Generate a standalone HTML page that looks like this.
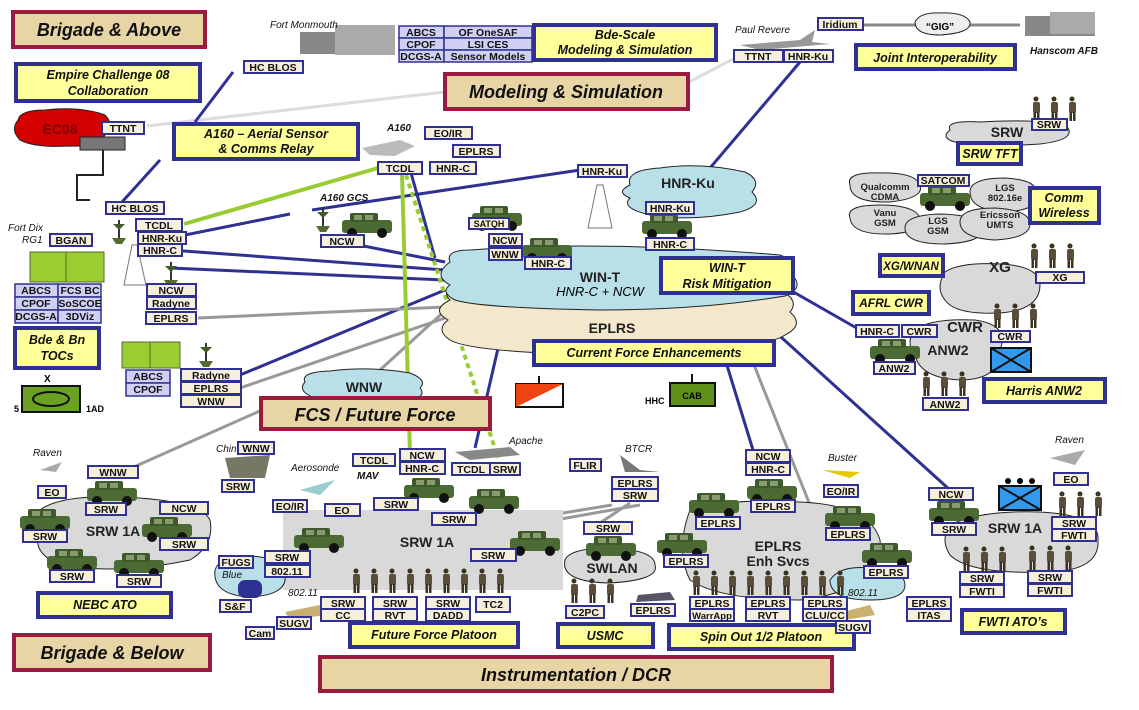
<!DOCTYPE html>
<html><head><meta charset="utf-8"><style>
html,body{margin:0;padding:0;background:#fff;width:1139px;height:710px;overflow:hidden}
svg{display:block}
text{font-family:"Liberation Sans",Arial,sans-serif}
.b{fill:#f6efdc;stroke:#2e3192;stroke-width:2}
.g{fill:#d0d0f4;stroke:#2e3192;stroke-width:1.5}
.t{font-size:10.5px;font-weight:bold;text-anchor:middle;fill:#111}
.y{fill:#ffff99;stroke:#2e3192;stroke-width:4}
.yt{font-size:12.5px;font-weight:bold;font-style:italic;text-anchor:middle;fill:#111}
.m{fill:#e8d5a6;stroke:#9b1b3e;stroke-width:4}
.mt{font-size:18px;font-weight:bold;font-style:italic;text-anchor:middle;fill:#111}
.it{font-size:10px;font-style:italic;fill:#111}
.bl{stroke:#2e3192;stroke-width:3;fill:none}
.gr{stroke:#999;stroke-width:3;fill:none}
.lg{stroke:#ddd;stroke-width:3;fill:none}
.gn{stroke:#99cc33;stroke-width:4;fill:none}
.cl{stroke:#222;stroke-width:1}
.ct{font-size:14px;font-weight:bold;text-anchor:middle;fill:#222}
.st{font-size:9.5px;font-weight:bold;text-anchor:middle;fill:#222}
</style></head><body>
<svg width="1139" height="710" viewBox="0 0 1139 710" xmlns="http://www.w3.org/2000/svg">
<defs>
<g id="hv"><rect x="2" y="8" width="50" height="13" rx="3" fill="#4c6b34"/><rect x="10" y="1" width="28" height="9" rx="2" fill="#3d5a2a"/><rect x="14" y="3" width="8" height="5" fill="#8a9a70"/><rect x="25" y="3" width="8" height="5" fill="#8a9a70"/><circle cx="12" cy="21" r="5" fill="#111"/><circle cx="42" cy="21" r="5" fill="#111"/></g>
<g id="sd"><circle cx="4" cy="3" r="2.5" fill="#3a3322"/><rect x="1" y="6" width="7" height="11" rx="2" fill="#5a4e38"/><rect x="1.5" y="16" width="2.5" height="9" fill="#3a3322"/><rect x="5" y="16" width="2.5" height="9" fill="#3a3322"/></g>
<g id="s3"><use href="#sd"/><use href="#sd" x="18"/><use href="#sd" x="36"/></g>
<g id="ant"><rect x="0" y="0" width="2" height="18" fill="#333"/><path d="M-6 18 L8 18 L4 24 L-2 24 Z" fill="#556b2f"/><path d="M-5 4 L1 10 L7 4" fill="#3e5b2a"/></g>
</defs>

<line class="lg" x1="147" y1="126" x2="445" y2="92"/>
<line class="lg" x1="689" y1="82" x2="735" y2="58"/>
<line x1="863" y1="25" x2="1020" y2="25" stroke="#888" stroke-width="3"/>
<line class="bl" x1="233" y1="72" x2="195" y2="122"/>
<line class="bl" x1="160" y1="160" x2="122" y2="202"/>
<line class="bl" x1="800" y1="62" x2="710" y2="168"/>
<line class="bl" x1="170" y1="238" x2="290" y2="214"/>
<line class="bl" x1="312" y1="210" x2="580" y2="170"/>
<line class="bl" x1="170" y1="250" x2="445" y2="270"/>
<line class="bl" x1="170" y1="268" x2="445" y2="280"/>
<line class="bl" x1="333" y1="240" x2="445" y2="262"/>
<line class="bl" x1="411" y1="173" x2="435" y2="258"/>
<line class="bl" x1="240" y1="375" x2="445" y2="290"/>
<line class="gr" x1="198" y1="318" x2="445" y2="307"/>
<line class="gr" x1="240" y1="388" x2="445" y2="318"/>
<line class="gr" x1="380" y1="370" x2="505" y2="256"/>
<line class="gr" x1="127" y1="470" x2="262" y2="410"/>
<line class="bl" x1="508" y1="305" x2="475" y2="448"/>
<line class="gn" x1="184" y1="224" x2="378" y2="168"/>
<line class="gn" x1="402" y1="173" x2="410" y2="455"/>
<line x1="406" y1="175" x2="498" y2="458" stroke="#99cc33" stroke-width="4" stroke-dasharray="5,4"/>
<line class="bl" x1="710" y1="310" x2="753" y2="450"/>
<line class="gr" x1="740" y1="330" x2="810" y2="505"/>
<line class="bl" x1="740" y1="300" x2="950" y2="490"/>
<line class="bl" x1="790" y1="290" x2="860" y2="330"/>
<line class="gr" x1="520" y1="520" x2="612" y2="505"/>
<line class="gr" x1="600" y1="523" x2="630" y2="503"/>
<line class="gr" x1="555" y1="520" x2="640" y2="505"/>

<path class="cl" fill="#f3e7cc" d="M450 300 Q440 290 460 285 Q600 278 780 290 Q800 300 790 312 Q805 325 785 335 Q760 352 600 355 Q470 352 450 340 Q435 330 448 320 Q430 310 450 300Z"/>
<path class="cl" fill="#b9dfe8" d="M450 262 Q445 250 470 250 Q600 240 780 255 Q800 262 792 275 Q805 288 785 296 Q700 310 600 310 Q480 308 455 300 Q440 292 450 285 Q432 275 450 262Z"/>
<path class="cl" fill="#b9dfe8" d="M630 185 Q625 170 660 168 Q700 162 745 172 Q762 180 752 192 Q765 205 740 212 Q690 222 650 215 Q620 208 630 198 Q615 192 630 185Z"/>
<path class="cl" fill="#b9dfe8" d="M305 382 Q300 372 330 371 Q370 366 410 373 Q428 380 420 388 Q428 398 405 400 Q360 404 318 399 Q296 392 305 382Z"/>
<path class="cl" fill="#d40000" d="M18 120 Q20 110 45 110 Q80 106 105 115 Q115 125 105 135 Q100 147 70 146 Q35 148 20 140 Q10 130 18 120Z"/>
<path class="cl" fill="#eee" d="M915 22 Q920 12 940 13 Q965 12 970 22 Q972 33 940 35 Q915 35 915 22Z"/>
<path class="cl" fill="#d9d9d9" d="M950 130 Q945 120 980 122 Q1050 118 1068 128 Q1075 140 1040 144 Q980 148 955 142 Q940 138 950 130Z"/>
<path class="cl" fill="#d9d9d9" d="M850 185 Q845 172 880 173 Q915 172 920 185 Q925 198 890 202 Q850 203 850 185Z"/>
<path class="cl" fill="#d9d9d9" d="M850 218 Q845 205 880 205 Q915 205 920 218 Q925 232 890 234 Q852 235 850 218Z"/>
<path class="cl" fill="#d9d9d9" d="M905 228 Q905 215 940 214 Q980 215 982 228 Q985 242 945 244 Q905 244 905 228Z"/>
<path class="cl" fill="#d9d9d9" d="M970 192 Q970 178 1005 178 Q1040 180 1036 195 Q1040 210 1005 212 Q970 210 970 192Z"/>
<path class="cl" fill="#d9d9d9" d="M960 222 Q960 208 995 208 Q1030 210 1030 224 Q1030 238 995 240 Q960 238 960 222Z"/>
<path class="cl" fill="#d9d9d9" d="M945 272 Q960 262 1000 264 Q1040 266 1040 285 Q1040 310 1000 313 Q955 315 945 300 Q935 288 945 272Z"/>
<path class="cl" fill="#d9d9d9" d="M915 330 Q930 318 975 320 Q1010 325 1000 350 Q1000 380 960 380 Q920 378 915 355 Q905 342 915 330Z"/>
<path class="cl" fill="#d9d9d9" d="M40 510 Q60 495 120 497 Q200 500 210 520 Q215 545 190 560 Q120 575 60 565 Q30 552 40 530 Q28 520 40 510Z"/>
<rect x="283" y="510" width="280" height="80" fill="#d9d9d9"/>
<path class="cl" fill="#d9d9d9" d="M565 560 Q570 548 610 548 Q655 550 655 565 Q660 580 610 583 Q560 582 565 560Z"/>
<path class="cl" fill="#d9d9d9" d="M690 510 Q730 498 800 502 Q870 505 880 540 Q885 590 800 600 Q720 600 690 580 Q675 550 690 510Z"/>
<path class="cl" fill="#d9d9d9" d="M950 525 Q980 510 1040 512 Q1100 515 1098 540 Q1100 570 1050 572 Q970 575 950 555 Q940 540 950 525Z"/>
<path class="cl" fill="#b9dfe8" d="M215 570 Q220 555 250 556 Q285 558 285 575 Q288 595 250 597 Q212 595 215 570Z"/>
<path class="cl" fill="#b9dfe8" d="M830 580 Q840 565 870 568 Q905 570 905 585 Q905 600 870 600 Q830 600 830 580Z"/>

<text x="60" y="134" class="ct" style="fill:#7a0000">EC08</text>
<rect x="80" y="137" width="45" height="13" fill="#777" stroke="#222"/>
<path d="M103 150 V175 H77 V200 H90" fill="none" stroke="#222" stroke-width="2"/>
<text x="600" y="282" class="ct">WIN-T</text>
<text x="600" y="296" style="font-size:13px;font-style:italic;text-anchor:middle">HNR-C + NCW</text>
<text x="612" y="333" class="ct">EPLRS</text>
<text x="688" y="188" class="ct">HNR-Ku</text>
<text x="364" y="392" class="ct">WNW</text>
<text x="940" y="30" style="font-size:10px;font-weight:bold;text-anchor:middle">“GIG”</text>
<text x="1007" y="137" class="ct">SRW</text>
<text x="885" y="190" class="st">Qualcomm</text><text x="885" y="200" class="st">CDMA</text>
<text x="885" y="216" class="st">Vanu</text><text x="885" y="226" class="st">GSM</text>
<text x="938" y="224" class="st">LGS</text><text x="938" y="234" class="st">GSM</text>
<text x="1005" y="191" class="st">LGS</text><text x="1005" y="201" class="st">802.16e</text>
<text x="1000" y="218" class="st">Ericsson</text><text x="1000" y="228" class="st">UMTS</text>
<text x="1000" y="272" class="ct" style="font-size:15px">XG</text>
<text x="965" y="332" class="ct" style="font-size:15px">CWR</text>
<text x="948" y="355" class="ct">ANW2</text>
<text x="113" y="536" class="ct">SRW 1A</text>
<text x="427" y="547" class="ct">SRW 1A</text>
<text x="612" y="573" class="ct">SWLAN</text>
<text x="778" y="551" class="ct">EPLRS</text><text x="778" y="566" class="ct">Enh Svcs</text>
<text x="1015" y="533" class="ct">SRW 1A</text>
<text x="222" y="578" class="it">Blue</text>
<rect x="238" y="580" width="24" height="18" rx="7" fill="#2e3192"/>
<text x="288" y="596" class="it">802.11</text>
<text x="848" y="596" class="it">802.11</text>

<rect class="m" x="13" y="12" width="192" height="35"/><text class="mt" x="109" y="36">Brigade &amp; Above</text>
<rect class="m" x="445" y="74" width="243" height="35"/><text class="mt" x="566" y="98">Modeling &amp; Simulation</text>
<rect class="m" x="261" y="398" width="229" height="31"/><text class="mt" x="375" y="421">FCS / Future Force</text>
<rect class="m" x="14" y="635" width="196" height="35"/><text class="mt" x="112" y="659">Brigade &amp; Below</text>
<rect class="m" x="320" y="657" width="512" height="34"/><text class="mt" x="576" y="681">Instrumentation / DCR</text>

<rect class="y" x="16" y="64" width="184" height="37"/><text class="yt" x="108" y="79">Empire Challenge 08</text><text class="yt" x="108" y="95">Collaboration</text>
<rect class="y" x="534" y="25" width="182" height="35"/><text class="yt" x="625" y="39">Bde-Scale</text><text class="yt" x="625" y="54">Modeling &amp; Simulation</text>
<rect class="y" x="174" y="124" width="184" height="35"/><text class="yt" x="266" y="138">A160 – Aerial Sensor</text><text class="yt" x="266" y="153">&amp; Comms Relay</text>
<rect class="y" x="856" y="45" width="159" height="24"/><text class="yt" x="935" y="62">Joint Interoperability</text>
<rect class="y" x="958" y="143" width="63" height="21"/><text class="yt" x="990" y="158">SRW TFT</text>
<rect class="y" x="1030" y="188" width="69" height="35"/><text class="yt" x="1064" y="202">Comm</text><text class="yt" x="1064" y="217">Wireless</text>
<rect class="y" x="880" y="255" width="63" height="21"/><text class="yt" x="911" y="270" style="font-size:11.5px">XG/WNAN</text>
<rect class="y" x="853" y="292" width="76" height="22"/><text class="yt" x="891" y="307" style="font-size:12px">AFRL CWR</text>
<rect class="y" x="661" y="258" width="132" height="35"/><text class="yt" x="727" y="272">WIN-T</text><text class="yt" x="727" y="288">Risk Mitigation</text>
<rect class="y" x="534" y="341" width="240" height="24"/><text class="yt" x="654" y="357">Current Force Enhancements</text>
<rect class="y" x="15" y="328" width="84" height="40"/><text class="yt" x="57" y="344">Bde &amp; Bn</text><text class="yt" x="57" y="360">TOCs</text>
<rect class="y" x="984" y="379" width="121" height="23"/><text class="yt" x="1044" y="395">Harris ANW2</text>
<rect class="y" x="38" y="593" width="133" height="24"/><text class="yt" x="105" y="609">NEBC ATO</text>
<rect class="y" x="350" y="623" width="168" height="24"/><text class="yt" x="434" y="639">Future Force Platoon</text>
<rect class="y" x="558" y="624" width="95" height="23"/><text class="yt" x="605" y="640">USMC</text>
<rect class="y" x="669" y="625" width="185" height="24"/><text class="yt" x="761" y="641">Spin Out 1/2 Platoon</text>
<rect class="y" x="962" y="610" width="103" height="23"/><text class="yt" x="1013" y="626">FWTI ATO’s</text>

<g fill="#888"><rect x="300" y="32" width="70" height="22"/><rect x="335" y="25" width="60" height="30" fill="#aaa"/></g>
<g fill="#888"><rect x="1025" y="16" width="70" height="20"/><rect x="1050" y="12" width="45" height="22" fill="#aaa"/></g>
<path d="M740 45 L800 40 L815 30 L812 42 L830 44 L760 50Z" fill="#999"/>
<path d="M362 148 L400 140 L415 146 L395 156 L370 155Z" fill="#bbb"/>
<path d="M597 185 L603 185 L612 228 L588 228Z" fill="none" stroke="#777"/>
<path d="M132 245 L137 245 L146 285 L124 285Z" fill="none" stroke="#777"/>
<g fill="#9acd32" stroke="#556b2f"><rect x="30" y="252" width="38" height="30"/><rect x="66" y="252" width="38" height="30"/><rect x="122" y="342" width="30" height="26"/><rect x="150" y="342" width="30" height="26"/></g>
<use href="#ant" x="118" y="220"/><use href="#ant" x="170" y="262"/><use href="#ant" x="322" y="208"/><use href="#ant" x="205" y="343"/>
<text x="44" y="382" style="font-size:10px;font-weight:bold">X</text>
<rect x="22" y="386" width="58" height="26" fill="#6aa121" stroke="#111" stroke-width="2"/>
<ellipse cx="51" cy="399" rx="18" ry="7" fill="none" stroke="#111" stroke-width="2"/>
<text x="14" y="412" style="font-size:9px;font-weight:bold">5</text><text x="86" y="412" style="font-size:9px;font-weight:bold">1AD</text>
<line x1="539" y1="376" x2="539" y2="384" stroke="#111" stroke-width="2"/>
<rect x="516" y="384" width="47" height="23" fill="#fff" stroke="#111" stroke-width="2"/>
<path d="M516 384 H563 L516 407Z" fill="#ee4411"/>
<line x1="692" y1="374" x2="692" y2="383" stroke="#111" stroke-width="2"/>
<rect x="670" y="383" width="45" height="23" fill="#5e8f17" stroke="#111" stroke-width="2"/>
<text x="692" y="399" style="font-size:9px;font-weight:bold;text-anchor:middle">CAB</text>
<text x="645" y="404" style="font-size:9px;font-weight:bold">HHC</text>
<rect x="991" y="348" width="40" height="24" fill="#3399ee" stroke="#111" stroke-width="2"/><path d="M991 348 L1031 372 M1031 348 L991 372" stroke="#111" stroke-width="2"/>
<rect x="999" y="486" width="42" height="24" fill="#3399ee" stroke="#111" stroke-width="2"/><path d="M999 486 L1041 510 M1041 486 L999 510" stroke="#111" stroke-width="2"/>
<circle cx="1008" cy="481" r="3"/><circle cx="1020" cy="481" r="3"/><circle cx="1032" cy="481" r="3"/>
<path d="M455 452 L510 447 L520 455 L470 460Z" fill="#888"/>
<path d="M620 455 L640 470 L660 472 L625 472Z" fill="#777"/>
<path d="M822 470 L860 472 L850 478Z" fill="#e8c800"/>
<path d="M300 490 L335 480 L320 495Z" fill="#9cc"/>
<path d="M225 458 L270 455 L265 478 L230 478Z" fill="#776"/>
<path d="M638 595 L670 592 L675 600 L636 602Z" fill="#556"/>
<path d="M285 612 L320 605 L325 615 L290 620Z" fill="#c8b070"/>
<path d="M842 612 L870 605 L875 615 L845 620Z" fill="#c8b070"/>
<path d="M40 470 L62 462 L56 472Z" fill="#aaa"/><path d="M1050 458 L1085 450 L1075 465Z" fill="#aaa"/>

<use href="#hv" x="470" y="205"/><use href="#hv" x="520" y="237"/><use href="#hv" x="340" y="212"/>
<use href="#hv" x="640" y="213"/><use href="#hv" x="918" y="185"/><use href="#hv" x="868" y="338"/>
<use href="#hv" x="85" y="480"/><use href="#hv" x="18" y="508"/><use href="#hv" x="140" y="516"/><use href="#hv" x="45" y="548"/><use href="#hv" x="112" y="552"/>
<use href="#hv" x="402" y="477"/><use href="#hv" x="467" y="488"/><use href="#hv" x="292" y="527"/><use href="#hv" x="508" y="530"/>
<use href="#hv" x="584" y="535"/><use href="#hv" x="687" y="492"/><use href="#hv" x="745" y="478"/><use href="#hv" x="655" y="532"/><use href="#hv" x="823" y="505"/><use href="#hv" x="860" y="542"/><use href="#hv" x="927" y="500"/>

<use href="#s3" x="1032" y="96"/><use href="#s3" x="1030" y="243"/><use href="#s3" x="993" y="303"/><use href="#s3" x="922" y="371"/>
<use href="#s3" x="352" y="568"/><use href="#s3" x="406" y="568"/><use href="#s3" x="460" y="568"/>
<use href="#s3" x="570" y="578"/><use href="#s3" x="692" y="570"/><use href="#s3" x="746" y="570"/><use href="#s3" x="800" y="570"/>
<use href="#s3" x="1058" y="491"/><use href="#s3" x="962" y="546"/><use href="#s3" x="1028" y="545"/>

<g>
<rect class="g" x="399" y="26" width="45" height="12"/><text class="t" x="421" y="36">ABCS</text>
<rect class="g" x="444" y="26" width="88" height="12"/><text class="t" x="488" y="36">OF OneSAF</text>
<rect class="g" x="399" y="38" width="45" height="12"/><text class="t" x="421" y="48">CPOF</text>
<rect class="g" x="444" y="38" width="88" height="12"/><text class="t" x="488" y="48">LSI CES</text>
<rect class="g" x="399" y="50" width="45" height="12"/><text class="t" x="421" y="60">DCGS-A</text>
<rect class="g" x="444" y="50" width="88" height="12"/><text class="t" x="488" y="60">Sensor Models</text>
<rect class="g" x="15" y="284" width="43" height="13"/><text class="t" x="36" y="294">ABCS</text>
<rect class="g" x="58" y="284" width="43" height="13"/><text class="t" x="80" y="294">FCS BC</text>
<rect class="g" x="15" y="297" width="43" height="13"/><text class="t" x="36" y="307">CPOF</text>
<rect class="g" x="58" y="297" width="43" height="13"/><text class="t" x="80" y="307">SoSCOE</text>
<rect class="g" x="15" y="310" width="43" height="13"/><text class="t" x="36" y="320">DCGS-A</text>
<rect class="g" x="58" y="310" width="43" height="13"/><text class="t" x="80" y="320">3DViz</text>
<rect class="g" x="126" y="370" width="44" height="13"/><text class="t" x="148" y="380">ABCS</text>
<rect class="g" x="126" y="383" width="44" height="13"/><text class="t" x="148" y="393">CPOF</text>
</g>
<text class="it" x="270" y="28">Fort Monmouth</text>
<text class="it" x="735" y="33">Paul Revere</text>
<text class="it" x="1030" y="54" style="font-weight:bold">Hanscom AFB</text>
<text class="it" x="387" y="131" style="font-weight:bold">A160</text>
<text class="it" x="320" y="201" style="font-weight:bold">A160 GCS</text>
<text class="it" x="8" y="231">Fort Dix</text><text class="it" x="22" y="243">RG1</text>
<text class="it" x="33" y="456">Raven</text><text class="it" x="1055" y="443">Raven</text>
<text class="it" x="216" y="452">Chinook</text><text class="it" x="291" y="471">Aerosonde</text>
<text class="it" x="357" y="479" style="font-weight:bold">MAV</text><text class="it" x="509" y="444">Apache</text>
<text class="it" x="625" y="452">BTCR</text><text class="it" x="828" y="461">Buster</text>

<g>
<rect class="b" x="244" y="61" width="59" height="12"/><text class="t" x="273" y="71">HC BLOS</text>
<rect class="b" x="102" y="122" width="42" height="12"/><text class="t" x="123" y="132">TTNT</text>
<rect class="b" x="425" y="127" width="47" height="12"/><text class="t" x="448" y="137">EO/IR</text>
<rect class="b" x="453" y="145" width="47" height="12"/><text class="t" x="476" y="155">EPLRS</text>
<rect class="b" x="378" y="162" width="44" height="12"/><text class="t" x="400" y="172">TCDL</text>
<rect class="b" x="430" y="162" width="46" height="12"/><text class="t" x="453" y="172">HNR-C</text>
<rect class="b" x="734" y="50" width="49" height="12"/><text class="t" x="758" y="60">TTNT</text>
<rect class="b" x="784" y="50" width="49" height="12"/><text class="t" x="808" y="60">HNR-Ku</text>
<rect class="b" x="818" y="18" width="45" height="12"/><text class="t" x="840" y="28">Iridium</text>
<rect class="b" x="106" y="202" width="58" height="12"/><text class="t" x="135" y="212">HC BLOS</text>
<rect class="b" x="136" y="219" width="46" height="12"/><text class="t" x="159" y="229">TCDL</text>
<rect class="b" x="138" y="232" width="48" height="12"/><text class="t" x="162" y="242">HNR-Ku</text>
<rect class="b" x="138" y="244" width="44" height="12"/><text class="t" x="160" y="254">HNR-C</text>
<rect class="b" x="321" y="235" width="43" height="12"/><text class="t" x="342" y="245">NCW</text>
<rect class="b" x="469" y="218" width="40" height="11"/><text class="t" x="489" y="227" style="font-size:9px">SATQH</text>
<rect class="b" x="489" y="234" width="33" height="12"/><text class="t" x="505" y="244">NCW</text>
<rect class="b" x="489" y="248" width="33" height="12"/><text class="t" x="505" y="258">WNW</text>
<rect class="b" x="525" y="257" width="46" height="12"/><text class="t" x="548" y="267">HNR-C</text>
<rect class="b" x="578" y="165" width="49" height="12"/><text class="t" x="602" y="175">HNR-Ku</text>
<rect class="b" x="646" y="202" width="48" height="12"/><text class="t" x="670" y="212">HNR-Ku</text>
<rect class="b" x="646" y="238" width="48" height="12"/><text class="t" x="670" y="248">HNR-C</text>
<rect class="b" x="50" y="234" width="42" height="12"/><text class="t" x="71" y="244">BGAN</text>
<rect class="b" x="147" y="284" width="49" height="12"/><text class="t" x="171" y="294">NCW</text>
<rect class="b" x="147" y="297" width="49" height="12"/><text class="t" x="171" y="307">Radyne</text>
<rect class="b" x="146" y="312" width="50" height="12"/><text class="t" x="171" y="322">EPLRS</text>
<rect class="b" x="181" y="369" width="60" height="12"/><text class="t" x="211" y="379">Radyne</text>
<rect class="b" x="181" y="382" width="60" height="12"/><text class="t" x="211" y="392">EPLRS</text>
<rect class="b" x="181" y="395" width="60" height="12"/><text class="t" x="211" y="405">WNW</text>
<rect class="b" x="918" y="175" width="51" height="11"/><text class="t" x="943" y="184">SATCOM</text>
<rect class="b" x="1032" y="119" width="35" height="11"/><text class="t" x="1049" y="128">SRW</text>
<rect class="b" x="1036" y="272" width="48" height="11"/><text class="t" x="1060" y="281">XG</text>
<rect class="b" x="856" y="325" width="43" height="12"/><text class="t" x="877" y="335">HNR-C</text>
<rect class="b" x="902" y="325" width="35" height="12"/><text class="t" x="919" y="335">CWR</text>
<rect class="b" x="991" y="331" width="39" height="11"/><text class="t" x="1010" y="340">CWR</text>
<rect class="b" x="874" y="362" width="41" height="12"/><text class="t" x="894" y="372">ANW2</text>
<rect class="b" x="923" y="398" width="45" height="12"/><text class="t" x="945" y="408">ANW2</text>
<rect class="b" x="38" y="486" width="28" height="12"/><text class="t" x="52" y="496">EO</text>
<rect class="b" x="88" y="466" width="50" height="12"/><text class="t" x="113" y="476">WNW</text>
<rect class="b" x="86" y="503" width="40" height="12"/><text class="t" x="106" y="513">SRW</text>
<rect class="b" x="160" y="502" width="48" height="12"/><text class="t" x="184" y="512">NCW</text>
<rect class="b" x="23" y="530" width="44" height="12"/><text class="t" x="45" y="540">SRW</text>
<rect class="b" x="160" y="538" width="48" height="12"/><text class="t" x="184" y="548">SRW</text>
<rect class="b" x="50" y="570" width="44" height="12"/><text class="t" x="72" y="580">SRW</text>
<rect class="b" x="117" y="575" width="44" height="12"/><text class="t" x="139" y="585">SRW</text>
<rect class="b" x="238" y="442" width="36" height="12"/><text class="t" x="256" y="452">WNW</text>
<rect class="b" x="222" y="480" width="32" height="12"/><text class="t" x="238" y="490">SRW</text>
<rect class="b" x="273" y="500" width="34" height="12"/><text class="t" x="290" y="510">EO/IR</text>
<rect class="b" x="325" y="504" width="35" height="12"/><text class="t" x="342" y="514">EO</text>
<rect class="b" x="374" y="498" width="44" height="12"/><text class="t" x="396" y="508">SRW</text>
<rect class="b" x="432" y="513" width="44" height="12"/><text class="t" x="454" y="523">SRW</text>
<rect class="b" x="265" y="551" width="45" height="12"/><text class="t" x="287" y="561">SRW</text>
<rect class="b" x="265" y="565" width="45" height="12"/><text class="t" x="287" y="575">802.11</text>
<rect class="b" x="219" y="556" width="34" height="12"/><text class="t" x="236" y="566">FUGS</text>
<rect class="b" x="220" y="600" width="31" height="12"/><text class="t" x="235" y="610">S&amp;F</text>
<rect class="b" x="246" y="627" width="28" height="12"/><text class="t" x="260" y="637">Cam</text>
<rect class="b" x="277" y="617" width="34" height="12"/><text class="t" x="294" y="627">SUGV</text>
<rect class="b" x="353" y="454" width="42" height="12"/><text class="t" x="374" y="464">TCDL</text>
<rect class="b" x="400" y="449" width="45" height="12"/><text class="t" x="422" y="459">NCW</text>
<rect class="b" x="400" y="462" width="45" height="12"/><text class="t" x="422" y="472">HNR-C</text>
<rect class="b" x="452" y="463" width="38" height="12"/><text class="t" x="471" y="473">TCDL</text>
<rect class="b" x="490" y="463" width="30" height="12"/><text class="t" x="505" y="473">SRW</text>
<rect class="b" x="570" y="459" width="31" height="12"/><text class="t" x="585" y="469">FLIR</text>
<rect class="b" x="471" y="549" width="45" height="12"/><text class="t" x="493" y="559">SRW</text>
<rect class="b" x="321" y="597" width="44" height="12"/><text class="t" x="343" y="607">SRW</text>
<rect class="b" x="321" y="609" width="44" height="12"/><text class="t" x="343" y="619">CC</text>
<rect class="b" x="373" y="597" width="44" height="12"/><text class="t" x="395" y="607">SRW</text>
<rect class="b" x="373" y="609" width="44" height="12"/><text class="t" x="395" y="619">RVT</text>
<rect class="b" x="426" y="597" width="44" height="12"/><text class="t" x="448" y="607">SRW</text>
<rect class="b" x="426" y="609" width="44" height="12"/><text class="t" x="448" y="619">DADD</text>
<rect class="b" x="476" y="597" width="34" height="15"/><text class="t" x="493" y="608">TC2</text>
<rect class="b" x="612" y="477" width="46" height="12"/><text class="t" x="635" y="487">EPLRS</text>
<rect class="b" x="612" y="489" width="46" height="12"/><text class="t" x="635" y="499">SRW</text>
<rect class="b" x="584" y="522" width="48" height="12"/><text class="t" x="608" y="532">SRW</text>
<rect class="b" x="566" y="606" width="38" height="12"/><text class="t" x="585" y="616">C2PC</text>
<rect class="b" x="631" y="604" width="44" height="12"/><text class="t" x="653" y="614">EPLRS</text>
<rect class="b" x="746" y="450" width="44" height="12"/><text class="t" x="768" y="460">NCW</text>
<rect class="b" x="746" y="463" width="44" height="12"/><text class="t" x="768" y="473">HNR-C</text>
<rect class="b" x="824" y="485" width="34" height="12"/><text class="t" x="841" y="495">EO/IR</text>
<rect class="b" x="751" y="500" width="44" height="12"/><text class="t" x="773" y="510">EPLRS</text>
<rect class="b" x="696" y="517" width="44" height="12"/><text class="t" x="718" y="527">EPLRS</text>
<rect class="b" x="826" y="528" width="44" height="12"/><text class="t" x="848" y="538">EPLRS</text>
<rect class="b" x="664" y="555" width="44" height="12"/><text class="t" x="686" y="565">EPLRS</text>
<rect class="b" x="864" y="566" width="44" height="12"/><text class="t" x="886" y="576">EPLRS</text>
<rect class="b" x="690" y="597" width="44" height="12"/><text class="t" x="712" y="607">EPLRS</text>
<rect class="b" x="690" y="609" width="44" height="12"/><text class="t" x="712" y="619" style="font-size:9.5px">WarrApp</text>
<rect class="b" x="746" y="597" width="44" height="12"/><text class="t" x="768" y="607">EPLRS</text>
<rect class="b" x="746" y="609" width="44" height="12"/><text class="t" x="768" y="619">RVT</text>
<rect class="b" x="803" y="597" width="44" height="12"/><text class="t" x="825" y="607">EPLRS</text>
<rect class="b" x="803" y="609" width="44" height="12"/><text class="t" x="825" y="619">CLU/CC</text>
<rect class="b" x="836" y="621" width="34" height="12"/><text class="t" x="853" y="631">SUGV</text>
<rect class="b" x="907" y="597" width="44" height="12"/><text class="t" x="929" y="607">EPLRS</text>
<rect class="b" x="907" y="609" width="44" height="12"/><text class="t" x="929" y="619">ITAS</text>
<rect class="b" x="929" y="488" width="44" height="12"/><text class="t" x="951" y="498">NCW</text>
<rect class="b" x="932" y="523" width="44" height="12"/><text class="t" x="954" y="533">SRW</text>
<rect class="b" x="1054" y="473" width="34" height="12"/><text class="t" x="1071" y="483">EO</text>
<rect class="b" x="1052" y="517" width="44" height="12"/><text class="t" x="1074" y="527">SRW</text>
<rect class="b" x="1052" y="529" width="44" height="12"/><text class="t" x="1074" y="539">FWTI</text>
<rect class="b" x="960" y="572" width="44" height="12"/><text class="t" x="982" y="582">SRW</text>
<rect class="b" x="960" y="585" width="44" height="12"/><text class="t" x="982" y="595">FWTI</text>
<rect class="b" x="1028" y="571" width="44" height="12"/><text class="t" x="1050" y="581">SRW</text>
<rect class="b" x="1028" y="584" width="44" height="12"/><text class="t" x="1050" y="594">FWTI</text>
</g>
</svg>
</body></html>
